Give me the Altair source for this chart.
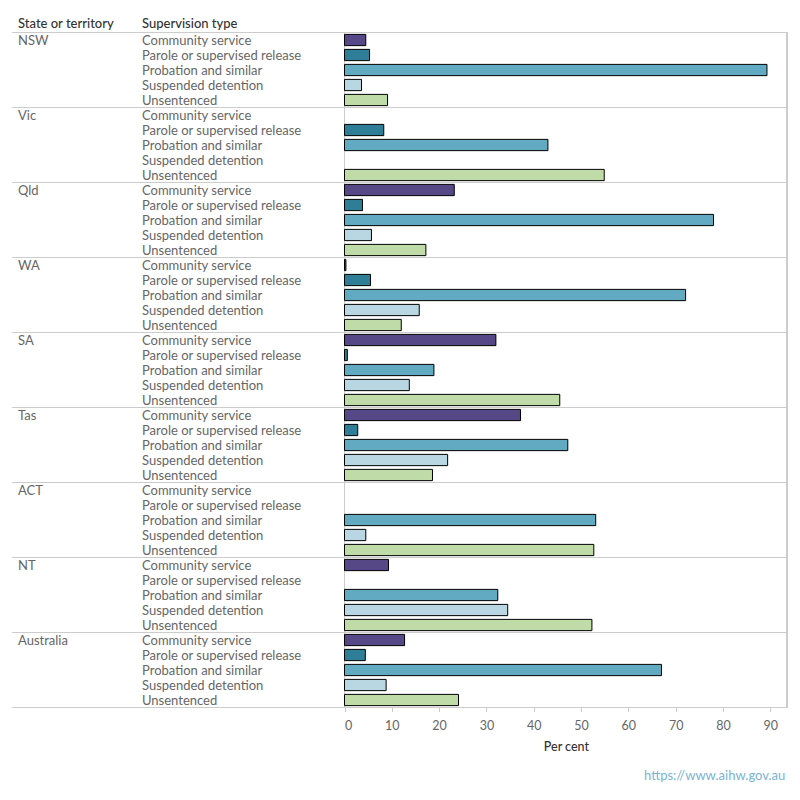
import altair as alt
import pandas as pd

states = ["NSW", "Vic", "Qld", "WA", "SA", "Tas", "ACT", "NT", "Australia"]
types = ["Community service", "Parole or supervised release", "Probation and similar",
         "Suspended detention", "Unsentenced"]
colors = ["#564787", "#2e7e98", "#62aac1", "#b9d7e2", "#bfdba8"]

nsw = [4.5, 5.3, 89.3, 3.6, 9.1]
vic = [None, 8.3, 43.0, None, 54.9]
qld = [23.2, 3.8, 78.0, 5.7, 17.2]
wa = [0.3, 5.5, 72.1, 15.8, 12.0]
sa = [32.0, 0.6, 18.9, 13.7, 45.5]
tas = [37.2, 2.8, 47.2, 21.8, 18.6]
act = [None, None, 53.1, 4.5, 52.7]
nt = [9.3, None, 32.4, 34.5, 52.3]
aus = [12.7, 4.4, 67.0, 8.8, 24.1]
values = [nsw, vic, qld, wa, sa, tas, act, nt, aus]

headers = ["State or territory", "Supervision type"]
ticks = [0, 10, 20, 30, 40, 50, 60, 70, 80, 90]
x_max = 93.6

rows = []
for si, s in enumerate(states):
    for ti, t in enumerate(types):
        rows.append({
            "key": f"{si:02d}-{ti}",
            "state": s,
            "stype": t,
            "value": values[si][ti],
            "first": ti == 0,
            "lastall": (si == len(states) - 1 and ti == len(types) - 1),
        })
df = pd.DataFrame(rows)

FONT = "Lato"
W = 775.3
H = 675

base = alt.Chart(df)
yscale = alt.Scale(paddingInner=0, paddingOuter=0)
xscale = alt.Scale(domain=[0, x_max], range=[332.5, W], nice=False, zero=True)

def Y(band=0.5):
    return alt.Y("key:N", axis=None, scale=yscale, bandPosition=band)

sep_top = base.transform_filter("datum.first").mark_rule(color="#cccccc", strokeWidth=1).encode(y=Y(0))
sep_bot = base.transform_filter("datum.lastall").mark_rule(color="#cccccc", strokeWidth=1).encode(y=Y(1))
zero_line = base.mark_rule(color="#cccccc", strokeWidth=1).encode(x=alt.datum(0, scale=xscale))
right_line = base.mark_rule(color="#cccccc", strokeWidth=1).encode(x=alt.datum(x_max))

bars = base.mark_bar(height=alt.RelativeBandSize(0.75), stroke="black", strokeWidth=1).encode(
    x=alt.X("value:Q", scale=xscale,
            axis=alt.Axis(values=ticks, domain=False, grid=False, ticks=True, tickColor="#cccccc",
                          tickSize=4, labelColor="#666666", labelFontSize=12.5, labelFont=FONT,
                          labelPadding=8, title="Per cent", titleColor="#333333", titleFontSize=12.5,
                          titleFont=FONT, titleFontWeight=500, titlePadding=8)),
    y=Y(),
    color=alt.Color("stype:N", scale=alt.Scale(domain=types, range=colors), legend=None),
)

state_text = base.transform_filter("datum.first").mark_text(
    align="left", baseline="middle", fontSize=13, color="#666666", font=FONT, dy=1
).encode(x=alt.value(6), y=Y(), text="state:N")

type_text = base.mark_text(
    align="left", baseline="middle", fontSize=13, color="#666666", font=FONT, dy=1
).encode(x=alt.value(130), y=Y(), text="stype:N")

hdr_df = pd.DataFrame({"h": headers})
hdr1 = alt.Chart(hdr_df).transform_filter(alt.datum.h == headers[0]).mark_text(
    align="left", baseline="alphabetic", fontSize=13, color="#333333", font=FONT, fontWeight=500
).encode(x=alt.value(6), y=alt.value(-5), text="h:N")
hdr2 = alt.Chart(hdr_df).transform_filter(alt.datum.h == headers[1]).mark_text(
    align="left", baseline="alphabetic", fontSize=13, color="#333333", font=FONT, fontWeight=500
).encode(x=alt.value(130), y=alt.value(-5), text="h:N")

chart = alt.layer(
    sep_top, sep_bot, zero_line, right_line, bars, state_text, type_text, hdr1, hdr2
).properties(
    width=W, height=H,
    title=alt.TitleParams("https://www.aihw.gov.au", orient="bottom", anchor="end", frame="group",
                          color="#7ab3d3", fontSize=13, font=FONT, fontWeight="normal", offset=17,
                          dx=-2),
    padding={"left": 12, "top": 32.5, "right": 12.7, "bottom": 92},
    autosize=alt.AutoSizeParams(type="none"),
).configure_view(stroke=None)

chart.save("out.html", embed_options={"renderer": "svg", "actions": False})
